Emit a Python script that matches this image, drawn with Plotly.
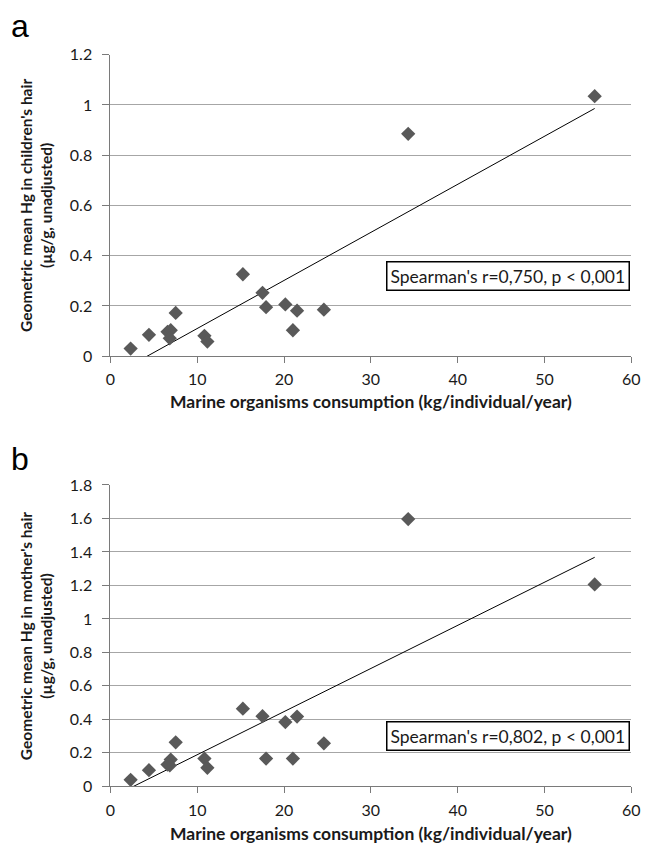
import numpy as np
import plotly.graph_objects as go

# ---- data ----
consumption = [2.33, 4.44, 6.58, 6.95, 6.84, 7.52, 10.83, 11.17, 15.26, 17.52,
               17.93, 20.15, 21.02, 21.5, 24.59, 34.3, 55.78]
hg_children = [0.030, 0.085, 0.097, 0.103, 0.071, 0.172, 0.081, 0.058, 0.326, 0.252,
               0.195, 0.206, 0.103, 0.181, 0.185, 0.885, 1.035]
hg_mothers = [0.039, 0.097, 0.130, 0.160, 0.125, 0.263, 0.166, 0.111, 0.464, 0.419,
              0.166, 0.384, 0.166, 0.417, 0.257, 1.596, 1.206]
x_ticks = [0, 10, 20, 30, 40, 50, 60]
ya_ticks = [0, 0.2, 0.4, 0.6, 0.8, 1, 1.2]
yb_ticks = [0, 0.2, 0.4, 0.6, 0.8, 1, 1.2, 1.4, 1.6, 1.8]
ya_title = "Geometric mean Hg in children's hair<br>(µg/g, unadjusted)"
yb_title = "Geometric mean Hg in mother's hair<br>(µg/g, unadjusted)"
x_title = "Marine organisms consumption (kg/individual/year)"
note_a = "Spearman's r=0,750, p < 0,001"
note_b = "Spearman's r=0,802, p < 0,001"

W, H = 655, 856
FONT = "Lato"
MARKER = "#595959"
GRID = "#a6a6a6"
AXIS = "#7a7a7a"
TXT = "#1a1a1a"

def px_x(p):
    return p / W

def px_y(p):
    return 1 - p / H

fig = go.Figure()

def trend(xs, ys):
    k, b = np.polyfit(xs, ys, 1)
    xx = np.array([min(xs), max(xs)])
    return xx, k * xx + b

for ys, xa, ya in [(hg_children, "x", "y"), (hg_mothers, "x2", "y2")]:
    tx, ty = trend(consumption, ys)
    fig.add_trace(go.Scatter(x=tx, y=ty, mode="lines", xaxis=xa, yaxis=ya,
                             line=dict(color="black", width=1), showlegend=False,
                             hoverinfo="skip"))
    fig.add_trace(go.Scatter(x=consumption, y=ys, mode="markers", xaxis=xa, yaxis=ya,
                             marker=dict(symbol="diamond", size=11, color=MARKER,
                                         line=dict(width=0)),
                             cliponaxis=False, showlegend=False))

xdom = [px_x(107.7), px_x(640)]
common_x = dict(range=[0, 60], tickvals=x_ticks, showgrid=False, zeroline=False,
                showline=True, linecolor=AXIS, linewidth=1, ticks="outside",
                ticklen=6, tickcolor=AXIS, tickfont=dict(family=FONT, size=16, color=TXT),
                ticklabelstandoff=3, domain=xdom)
common_y = dict(showgrid=True, gridcolor=GRID, gridwidth=1, zeroline=False,
                showline=True, linecolor=AXIS, linewidth=1, ticks="outside",
                ticklen=7, tickcolor=AXIS, tickfont=dict(family=FONT, size=16, color=TXT),
                ticklabelstandoff=7)

fig.update_layout(
    width=W, height=H, margin=dict(l=0, r=0, t=0, b=0),
    paper_bgcolor="white", plot_bgcolor="white",
    xaxis=dict(**common_x, anchor="y"),
    yaxis=dict(**common_y, range=[0, 1.2], tickvals=ya_ticks,
               ticktext=[str(v) for v in ya_ticks],
               domain=[px_y(354), px_y(45.7)], anchor="x"),
    xaxis2=dict(**common_x, anchor="y2"),
    yaxis2=dict(**common_y, range=[0, 1.8], tickvals=yb_ticks,
                ticktext=[str(v) for v in yb_ticks],
                domain=[px_y(794), px_y(485.7)], anchor="x2"),
)

ann = []
# panel letters
ann.append(dict(text="a", x=px_x(4), y=px_y(37), xref="paper", yref="paper",
                xanchor="left", yanchor="bottom", showarrow=False,
                font=dict(family="Liberation Sans", size=32, color="black")))
ann.append(dict(text="b", x=px_x(4), y=px_y(480), xref="paper", yref="paper",
                xanchor="left", yanchor="bottom", showarrow=False,
                font=dict(family="Liberation Sans", size=32, color="black")))
# axis titles
for yt, yc, xc_y in [(ya_title, 200, 400), (yb_title, 640, 842)]:
    ann.append(dict(text="<b>" + yt + "</b>", x=px_x(31), y=px_y(yc), xref="paper",
                    yref="paper", xanchor="center", yanchor="middle", textangle=-90,
                    showarrow=False, font=dict(family=FONT, size=15.5, color=TXT)))
    ann.append(dict(text="<b>" + x_title + "</b>", x=px_x(374), y=px_y(xc_y),
                    xref="paper", yref="paper", xanchor="center", yanchor="middle",
                    showarrow=False, font=dict(family=FONT, size=17.5, color=TXT)))
# note boxes
for note, yc in [(note_a, 272.5), (note_b, 742)]:
    ann.append(dict(text=note, x=px_x(639), y=px_y(yc), xref="paper", yref="paper",
                    xanchor="right", yanchor="middle", showarrow=False,
                    bgcolor="white", bordercolor="black", borderwidth=1.5, borderpad=3,
                    font=dict(family=FONT, size=17.5, color=TXT)))
fig.update_layout(annotations=ann)

fig.write_html("out.html")
